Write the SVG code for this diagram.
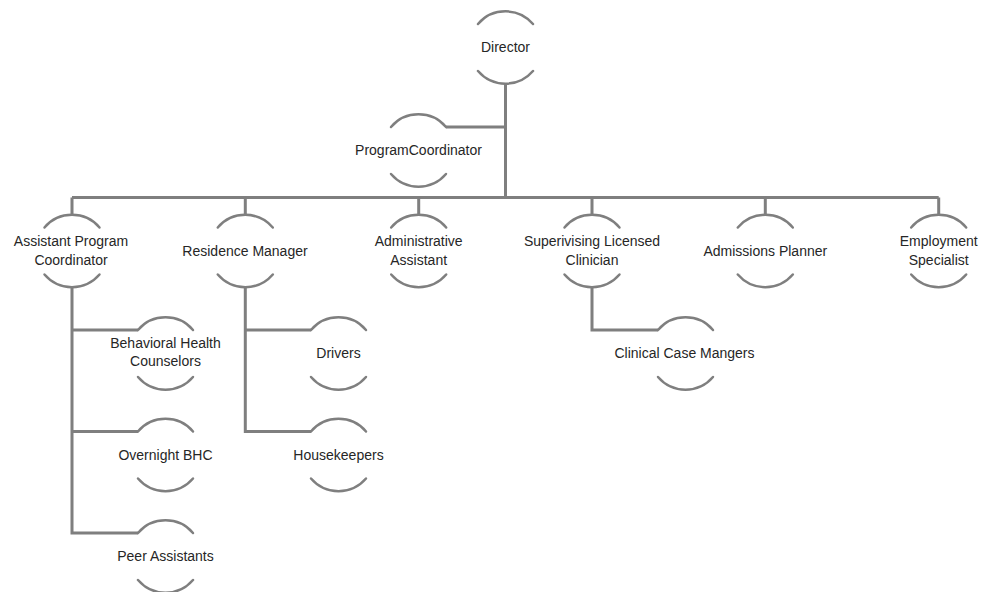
<svg xmlns="http://www.w3.org/2000/svg" width="982" height="592" viewBox="0 0 982 592">
<style>
.arc{fill:none;stroke:#7f7f7f;stroke-width:2.5;stroke-linecap:round}
.con{fill:none;stroke:#7f7f7f;stroke-width:3}
text{font-family:"Liberation Sans",Arial,sans-serif;font-size:14px;fill:#262626;text-anchor:middle}
</style>
<defs>
<g id="ring">
<path class="arc" d="M-27.5 -23.5 A36.2 36.2 0 0 1 27.5 -23.5"/>
<path class="arc" d="M-27.5 23.5 A36.2 36.2 0 0 0 27.5 23.5"/>
</g>
</defs>
<rect width="982" height="592" fill="#fff"/>
<g id="connectors">
<path class="con" d="M505.5 83.5 V197.5"/>
<path class="con" d="M446 127 H505.5"/>
<path class="con" d="M72 197.5 H938.7"/>
<path class="con" d="M72 197.5 V215 M245.3 197.5 V215 M418.7 197.5 V215 M592 197.5 V215 M765.3 197.5 V215 M938.7 197.5 V215"/>
<path class="con" d="M72 287 V533 H138 M72 330 H138 M72 431.5 H138"/>
<path class="con" d="M245.3 287 V431.5 H311 M245.3 330 H311"/>
<path class="con" d="M592 287 V330 H658"/>
</g>
<g id="director"><use href="#ring" x="505.5" y="47.5"/><text x="505.5" y="52">Director</text></g>
<g id="program-coordinator"><use href="#ring" x="418.5" y="150.5"/><text x="418.5" y="155">ProgramCoordinator</text></g>
<g id="assistant-program-coordinator"><use href="#ring" x="72" y="251"/><text x="71" y="246">Assistant Program</text><text x="71" y="265">Coordinator</text></g>
<g id="residence-manager"><use href="#ring" x="245.3" y="251"/><text x="245" y="256">Residence Manager</text></g>
<g id="administrative-assistant"><use href="#ring" x="418.7" y="251"/><text x="418.7" y="246">Administrative</text><text x="418.7" y="265">Assistant</text></g>
<g id="supervising-licensed-clinician"><use href="#ring" x="592" y="251"/><text x="592" y="246">Superivising Licensed</text><text x="592" y="265">Clinician</text></g>
<g id="admissions-planner"><use href="#ring" x="765.3" y="251"/><text x="765.3" y="256">Admissions Planner</text></g>
<g id="employment-specialist"><use href="#ring" x="938.7" y="251"/><text x="938.7" y="246">Employment</text><text x="938.7" y="265">Specialist</text></g>
<g id="behavioral-health-counselors"><use href="#ring" x="165.5" y="353.5"/><text x="165.5" y="348">Behavioral Health</text><text x="165.5" y="366">Counselors</text></g>
<g id="overnight-bhc"><use href="#ring" x="165.5" y="455"/><text x="165.5" y="460">Overnight BHC</text></g>
<g id="peer-assistants"><use href="#ring" x="165.5" y="556.5"/><text x="165.5" y="561">Peer Assistants</text></g>
<g id="drivers"><use href="#ring" x="338.5" y="353.5"/><text x="338.5" y="358">Drivers</text></g>
<g id="housekeepers"><use href="#ring" x="338.5" y="455"/><text x="338.5" y="460">Housekeepers</text></g>
<g id="clinical-case-managers"><use href="#ring" x="685.5" y="353.5"/><text x="684.5" y="358">Clinical Case Mangers</text></g>
</svg>
